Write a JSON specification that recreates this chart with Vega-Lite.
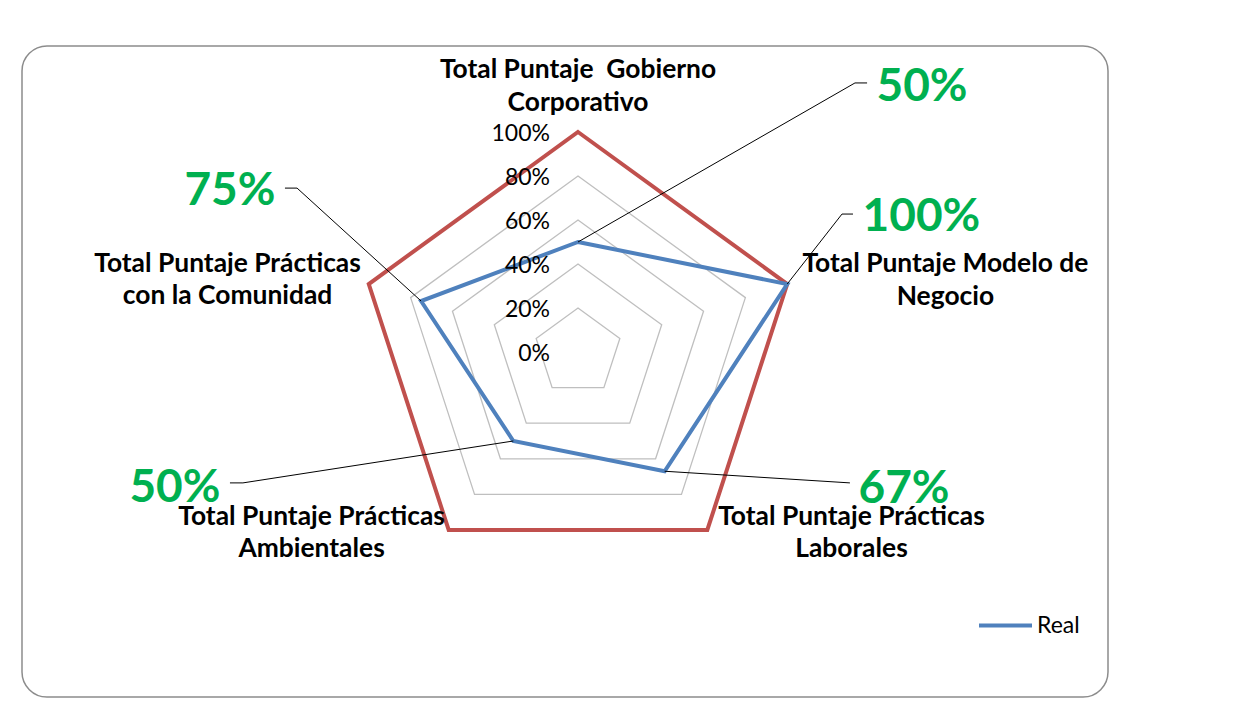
{
  "$schema": "https://vega.github.io/schema/vega-lite/v6.json",
  "width": 1086,
  "height": 651,
  "autosize": {"type": "none"},
  "padding": {"left": 22, "top": 46, "right": 143, "bottom": 31},
  "background": "white",
  "config": {
    "view": {"stroke": "#8C8C8C", "strokeWidth": 1.5, "cornerRadius": 25},
    "style": {
      "leader": {"color": "#000000", "strokeWidth": 1},
      "pct": {"font": "Lato", "fontWeight": "bold", "fontSize": 46, "color": "#00B050", "align": "center", "baseline": "alphabetic"},
      "cat": {"font": "Lato", "fontWeight": "bold", "fontSize": 26.4, "color": "#000000", "align": "center", "baseline": "alphabetic", "lineBreak": "\n", "lineHeight": 32.5}
    }
  },
  "datasets": {
    "radar": [
      {"categoria": "Total Puntaje\u00a0 Gobierno\nCorporativo", "orden": 0, "real": 0.5, "meta": 1},
      {"categoria": "Total Puntaje Modelo de\nNegocio", "orden": 1, "real": 1, "meta": 1},
      {"categoria": "Total Puntaje Prácticas\nLaborales", "orden": 2, "real": 0.67, "meta": 1},
      {"categoria": "Total Puntaje Prácticas\nAmbientales", "orden": 3, "real": 0.5, "meta": 1},
      {"categoria": "Total Puntaje Prácticas\ncon la Comunidad", "orden": 4, "real": 0.75, "meta": 1}
    ],
    "niveles": [
      {"nivel": 0, "orden": [0, 1, 2, 3, 4]},
      {"nivel": 0.2, "orden": [0, 1, 2, 3, 4]},
      {"nivel": 0.4, "orden": [0, 1, 2, 3, 4]},
      {"nivel": 0.6, "orden": [0, 1, 2, 3, 4]},
      {"nivel": 0.8, "orden": [0, 1, 2, 3, 4]},
      {"nivel": 1, "orden": [0, 1, 2, 3, 4]}
    ]
  },
  "layer": [
    {
      "data": {"name": "niveles"},
      "transform": [
        {"filter": "datum.nivel > 0"},
        {"flatten": ["orden"]},
        {"calculate": "datum.nivel * sin(datum.orden * 2 * PI / 5)", "as": "gx"},
        {"calculate": "datum.nivel * cos(datum.orden * 2 * PI / 5)", "as": "gy"}
      ],
      "mark": {"type": "line", "interpolate": "linear-closed", "stroke": "#BFBFBF", "strokeWidth": 1.3},
      "encoding": {
        "x": {"field": "gx", "type": "quantitative", "scale": {"domain": [-2.5273, 2.4091], "nice": false, "zero": false}, "axis": null},
        "y": {"field": "gy", "type": "quantitative", "scale": {"domain": [-1.5682, 1.3909], "nice": false, "zero": false}, "axis": null},
        "detail": {"field": "nivel", "type": "nominal"},
        "order": {"field": "orden", "type": "quantitative"}
      }
    },
    {
      "data": {"name": "radar"},
      "transform": [
        {"calculate": "datum.meta * sin(datum.orden * 2 * PI / 5)", "as": "mx"},
        {"calculate": "datum.meta * cos(datum.orden * 2 * PI / 5)", "as": "my"}
      ],
      "mark": {"type": "line", "interpolate": "linear-closed", "stroke": "#C0504D", "strokeWidth": 4},
      "encoding": {
        "x": {"field": "mx", "type": "quantitative"},
        "y": {"field": "my", "type": "quantitative"},
        "order": {"field": "orden", "type": "quantitative"}
      }
    },
    {
      "data": {"name": "radar"},
      "transform": [
        {"calculate": "datum.real * sin(datum.orden * 2 * PI / 5)", "as": "rx"},
        {"calculate": "datum.real * cos(datum.orden * 2 * PI / 5)", "as": "ry"}
      ],
      "mark": {"type": "line", "interpolate": "linear-closed", "strokeWidth": 4},
      "encoding": {
        "x": {"field": "rx", "type": "quantitative"},
        "y": {"field": "ry", "type": "quantitative"},
        "order": {"field": "orden", "type": "quantitative"},
        "color": {
          "datum": "Real",
          "type": "nominal",
          "scale": {"range": ["#4F81BD"]},
          "legend": {
            "title": null,
            "orient": "none",
            "legendX": 955,
            "legendY": 551,
            "padding": 0,
            "symbolType": "stroke",
            "symbolStrokeWidth": 4,
            "symbolSize": 2809,
            "labelFont": "Lato",
            "labelFontSize": 23,
            "labelColor": "#000000",
            "labelOffset": 3
          }
        }
      }
    },
    {
      "data": {"name": "niveles"},
      "mark": {"type": "text", "font": "Lato", "fontSize": 23, "color": "#000000", "align": "right", "baseline": "alphabetic", "dx": -28, "dy": 9},
      "encoding": {
        "x": {"datum": 0},
        "y": {"field": "nivel", "type": "quantitative"},
        "text": {"field": "nivel", "type": "quantitative", "format": ".0%"}
      }
    },
    {
      "data": {"name": "radar"},
      "transform": [
        {"calculate": "datum.real * sin(datum.orden * 2 * PI / 5)", "as": "px"},
        {"calculate": "datum.real * cos(datum.orden * 2 * PI / 5)", "as": "py"}
      ],
      "layer": [
        {
          "transform": [{"filter": "datum.orden == 0"}],
          "layer": [
            {"mark": {"type": "rule", "style": "leader"}, "encoding": {"x": {"field": "px", "type": "quantitative"}, "y": {"field": "py", "type": "quantitative"}, "x2": {"datum": 1.259}, "y2": {"datum": 1.223}}},
            {"mark": {"type": "rule", "style": "leader"}, "encoding": {"x": {"datum": 1.259}, "x2": {"datum": 1.314}, "y": {"datum": 1.223}}},
            {"mark": {"type": "text", "style": "pct"}, "encoding": {"x": {"datum": 1.5636}, "y": {"datum": 1.141}, "text": {"field": "real", "type": "quantitative", "format": ".0%"}}},
            {"mark": {"type": "text", "style": "cat"}, "encoding": {"x": {"datum": 0}, "y": {"datum": 1.245}, "text": {"field": "categoria"}}}
          ]
        },
        {
          "transform": [{"filter": "datum.orden == 1"}],
          "layer": [
            {"mark": {"type": "rule", "style": "leader"}, "encoding": {"x": {"field": "px", "type": "quantitative"}, "y": {"field": "py", "type": "quantitative"}, "x2": {"datum": 1.2}, "y2": {"datum": 0.627}}},
            {"mark": {"type": "rule", "style": "leader"}, "encoding": {"x": {"datum": 1.2}, "x2": {"datum": 1.25}, "y": {"datum": 0.627}}},
            {"mark": {"type": "text", "style": "pct"}, "encoding": {"x": {"datum": 1.561}, "y": {"datum": 0.55}, "text": {"field": "real", "type": "quantitative", "format": ".0%"}}},
            {"mark": {"type": "text", "style": "cat"}, "encoding": {"x": {"datum": 1.67}, "y": {"datum": 0.362}, "text": {"field": "categoria"}}}
          ]
        },
        {
          "transform": [{"filter": "datum.orden == 2"}],
          "layer": [
            {"mark": {"type": "rule", "style": "leader"}, "encoding": {"x": {"field": "px", "type": "quantitative"}, "y": {"field": "py", "type": "quantitative"}, "x2": {"datum": 1.236}, "y2": {"datum": -0.595}}},
            {"mark": {"type": "text", "style": "pct"}, "encoding": {"x": {"datum": 1.482}, "y": {"datum": -0.686}, "text": {"field": "real", "type": "quantitative", "format": ".0%"}}},
            {"mark": {"type": "text", "style": "cat"}, "encoding": {"x": {"datum": 1.243}, "y": {"datum": -0.786}, "text": {"field": "categoria"}}}
          ]
        },
        {
          "transform": [{"filter": "datum.orden == 3"}],
          "layer": [
            {"mark": {"type": "rule", "style": "leader"}, "encoding": {"x": {"field": "px", "type": "quantitative"}, "y": {"field": "py", "type": "quantitative"}, "x2": {"datum": -1.523}, "y2": {"datum": -0.595}}},
            {"mark": {"type": "rule", "style": "leader"}, "encoding": {"x": {"datum": -1.523}, "x2": {"datum": -1.582}, "y": {"datum": -0.595}}},
            {"mark": {"type": "text", "style": "pct"}, "encoding": {"x": {"datum": -1.832}, "y": {"datum": -0.682}, "text": {"field": "real", "type": "quantitative", "format": ".0%"}}},
            {"mark": {"type": "text", "style": "cat"}, "encoding": {"x": {"datum": -1.211}, "y": {"datum": -0.786}, "text": {"field": "categoria"}}}
          ]
        },
        {
          "transform": [{"filter": "datum.orden == 4"}],
          "layer": [
            {"mark": {"type": "rule", "style": "leader"}, "encoding": {"x": {"field": "px", "type": "quantitative"}, "y": {"field": "py", "type": "quantitative"}, "x2": {"datum": -1.277}, "y2": {"datum": 0.745}}},
            {"mark": {"type": "rule", "style": "leader"}, "encoding": {"x": {"datum": -1.277}, "x2": {"datum": -1.332}, "y": {"datum": 0.745}}},
            {"mark": {"type": "text", "style": "pct"}, "encoding": {"x": {"datum": -1.582}, "y": {"datum": 0.668}, "text": {"field": "real", "type": "quantitative", "format": ".0%"}}},
            {"mark": {"type": "text", "style": "cat"}, "encoding": {"x": {"datum": -1.593}, "y": {"datum": 0.364}, "text": {"field": "categoria"}}}
          ]
        }
      ]
    }
  ]
}
